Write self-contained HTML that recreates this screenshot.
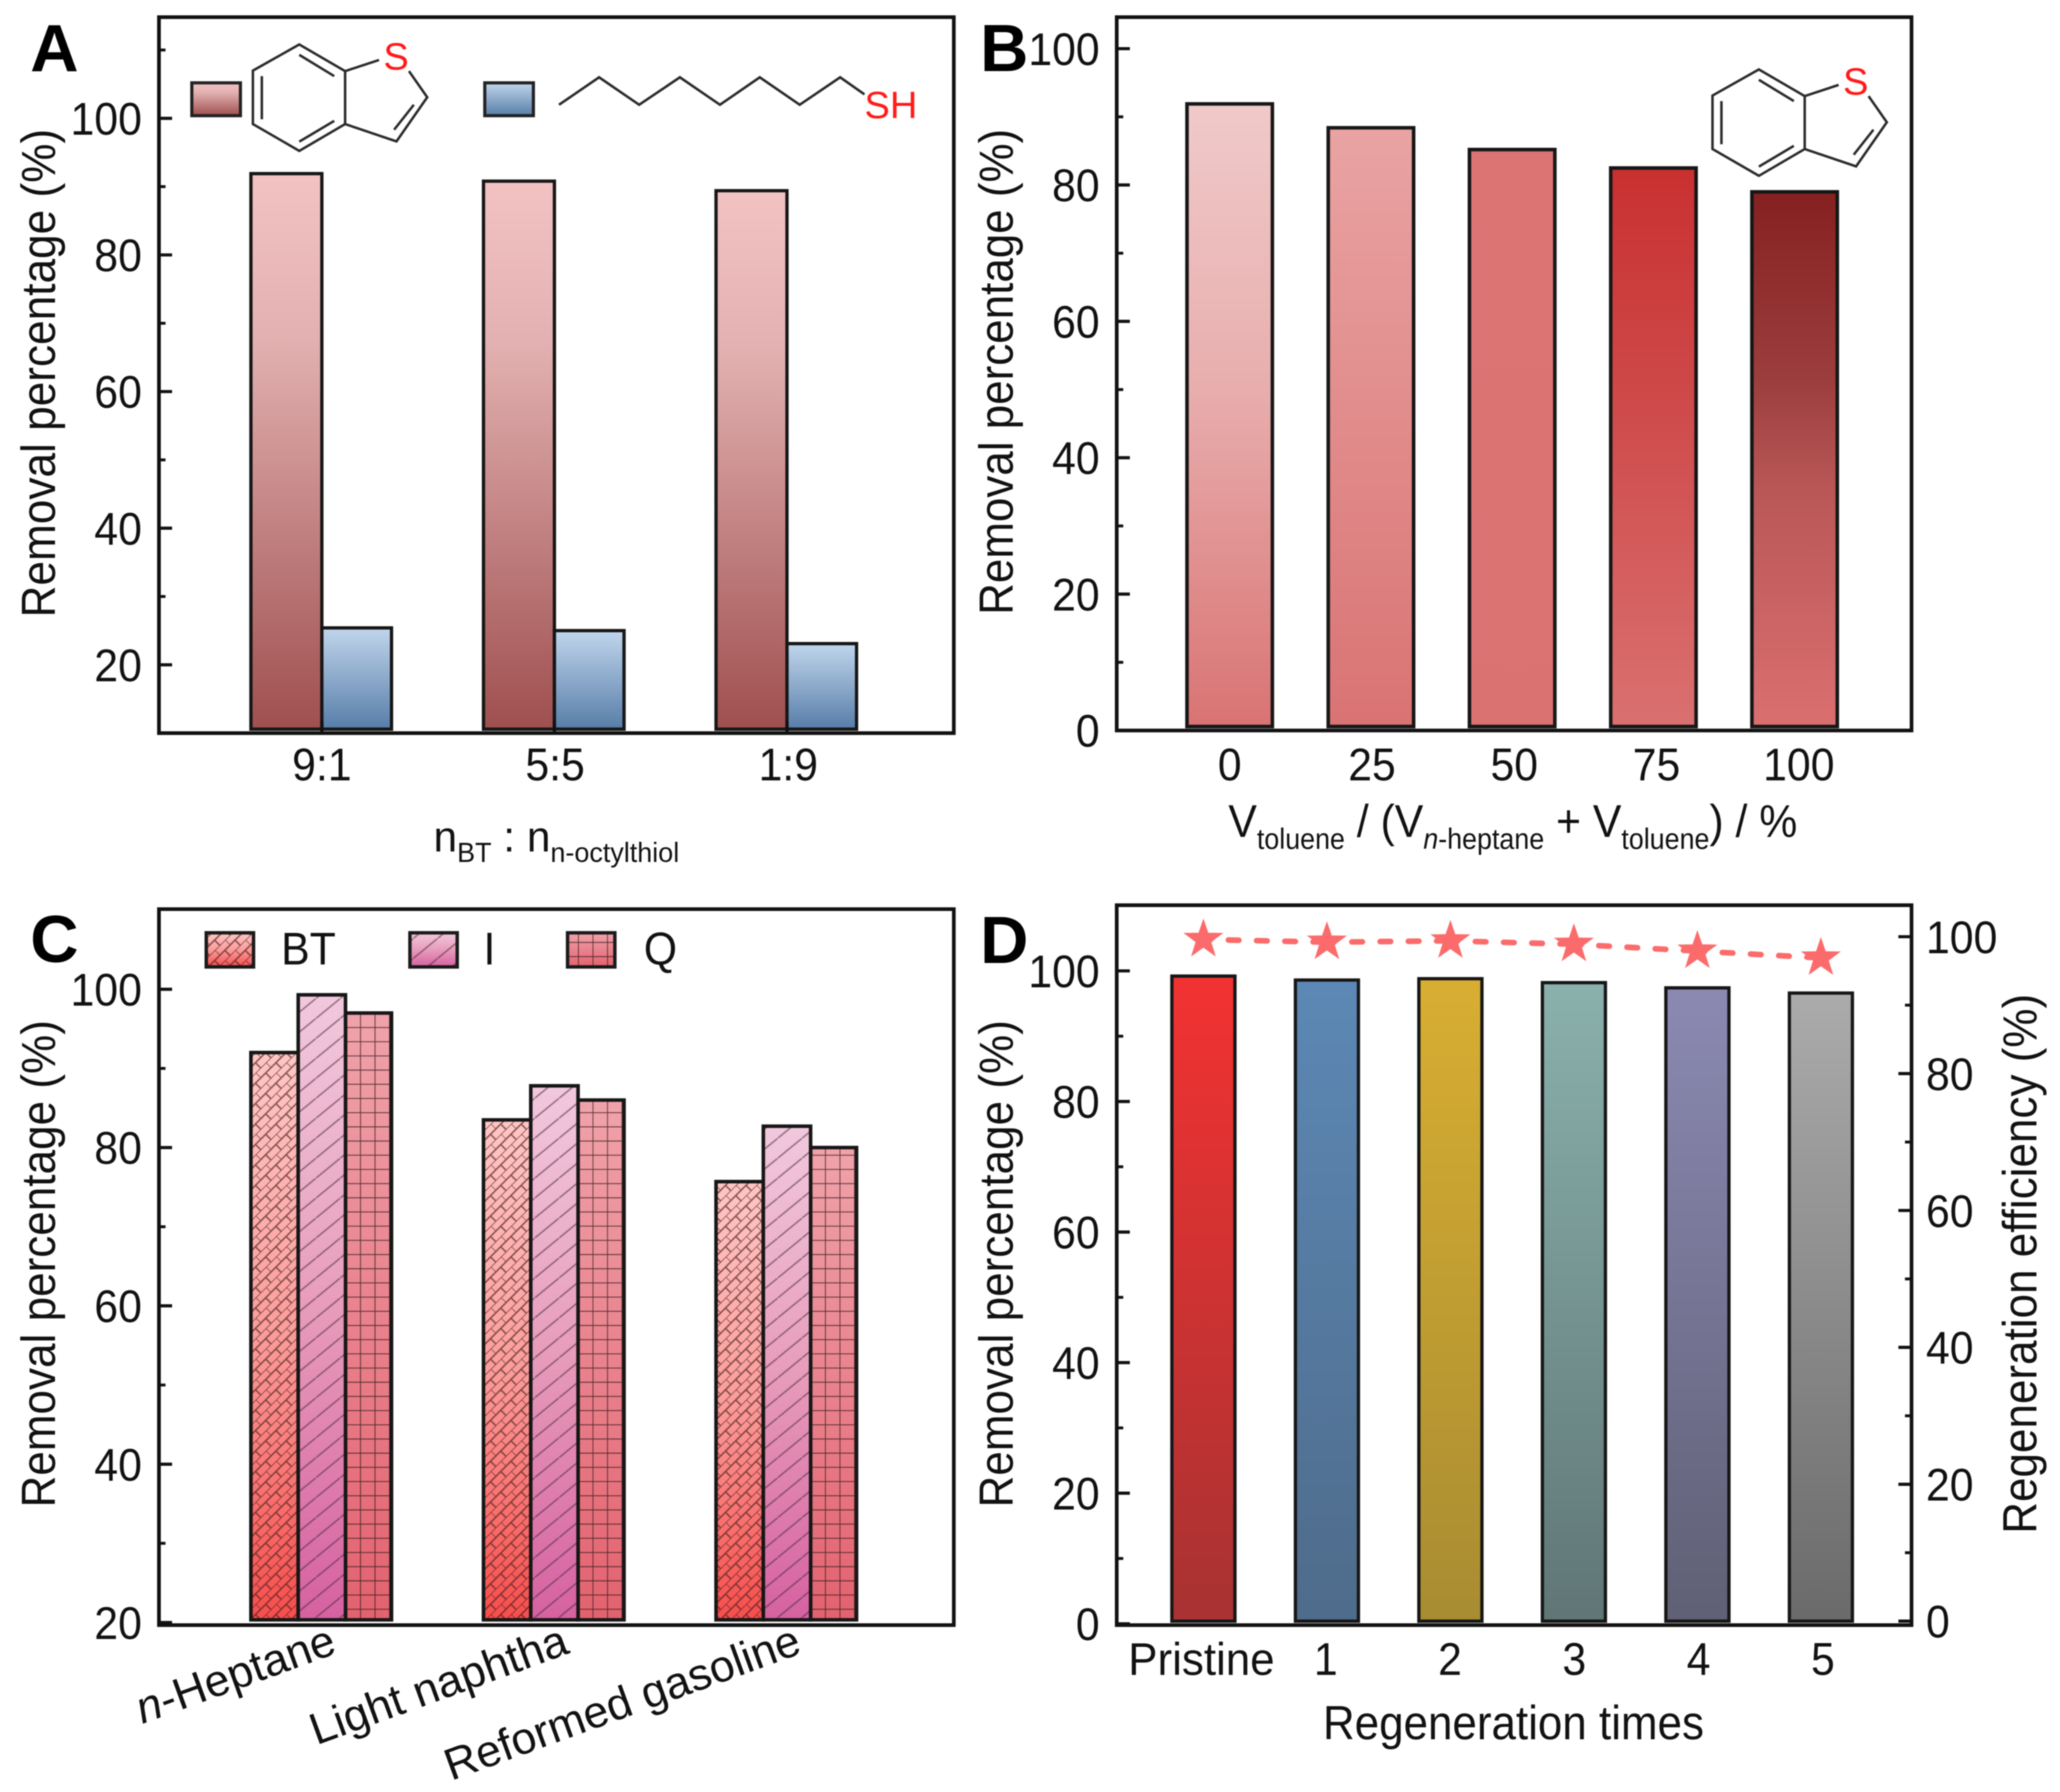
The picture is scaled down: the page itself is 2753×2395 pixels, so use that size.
<!DOCTYPE html>
<html lang="en">
<head>
<meta charset="utf-8">
<title>Removal percentage panels A-D</title>
<style>
html,body{margin:0;padding:0;background:#fff;}
svg{display:block;filter:blur(0.9px);}
text{font-family:"Liberation Sans",sans-serif;fill:#111;}
.tick{font-size:35px;}
.title{font-size:36.5px;}
.letter{font-size:51px;font-weight:bold;fill:#000;}
.frame{fill:none;stroke:#111;stroke-width:2.8;}
.bond{fill:none;stroke:#2b2b2b;stroke-width:1.9;}
.red{fill:#ff1a1a;font-size:29px;}
</style>
</head>
<body>
<svg id="figure" xmlns="http://www.w3.org/2000/svg" width="2753" height="2395" viewBox="0 0 1568 1364">
<defs>
<linearGradient id="gA1" x1="0" y1="0" x2="0" y2="1"><stop offset="0" stop-color="#f2c2c2"/><stop offset="0.3" stop-color="#e2b0b0"/><stop offset="1" stop-color="#9f4f4f"/></linearGradient>
<linearGradient id="gA2" x1="0" y1="0" x2="0" y2="1"><stop offset="0" stop-color="#c0d5ec"/><stop offset="1" stop-color="#577da8"/></linearGradient>
<linearGradient id="gB0" x1="0" y1="0" x2="0" y2="1"><stop offset="0" stop-color="#f0c9c9"/><stop offset="0.45" stop-color="#e8aeae"/><stop offset="1" stop-color="#d97373"/></linearGradient>
<linearGradient id="gB1" x1="0" y1="0" x2="0" y2="1"><stop offset="0" stop-color="#e9a3a3"/><stop offset="1" stop-color="#d97373"/></linearGradient>
<linearGradient id="gB2" x1="0" y1="0" x2="0" y2="1"><stop offset="0" stop-color="#dc7474"/><stop offset="1" stop-color="#da7272"/></linearGradient>
<linearGradient id="gB3" x1="0" y1="0" x2="0" y2="1"><stop offset="0" stop-color="#c93030"/><stop offset="0.35" stop-color="#cd4545"/><stop offset="1" stop-color="#da7070"/></linearGradient>
<linearGradient id="gB4" x1="0" y1="0" x2="0" y2="1"><stop offset="0" stop-color="#852020"/><stop offset="0.35" stop-color="#9c3d3d"/><stop offset="0.55" stop-color="#b85656"/><stop offset="1" stop-color="#db6f6f"/></linearGradient>
<linearGradient id="gCBT" x1="0" y1="0" x2="0" y2="1"><stop offset="0" stop-color="#ffc6c4"/><stop offset="0.5" stop-color="#fb9c9a"/><stop offset="1" stop-color="#f74d4b"/></linearGradient>
<linearGradient id="gCI" x1="0" y1="0" x2="0" y2="1"><stop offset="0" stop-color="#f1c8dd"/><stop offset="0.5" stop-color="#e79cba"/><stop offset="1" stop-color="#d561a1"/></linearGradient>
<linearGradient id="gCQ" x1="0" y1="0" x2="0" y2="1"><stop offset="0" stop-color="#f0a2aa"/><stop offset="1" stop-color="#e2626f"/></linearGradient>
<linearGradient id="gD0" x1="0" y1="0" x2="0" y2="1"><stop offset="0" stop-color="#f23232"/><stop offset="1" stop-color="#a83232"/></linearGradient>
<linearGradient id="gD1" x1="0" y1="0" x2="0" y2="1"><stop offset="0" stop-color="#5c88b5"/><stop offset="1" stop-color="#4e6b8a"/></linearGradient>
<linearGradient id="gD2" x1="0" y1="0" x2="0" y2="1"><stop offset="0" stop-color="#d8ae32"/><stop offset="1" stop-color="#a88c32"/></linearGradient>
<linearGradient id="gD3" x1="0" y1="0" x2="0" y2="1"><stop offset="0" stop-color="#8ab1ad"/><stop offset="1" stop-color="#5f7675"/></linearGradient>
<linearGradient id="gD4" x1="0" y1="0" x2="0" y2="1"><stop offset="0" stop-color="#8b89b2"/><stop offset="1" stop-color="#5f5f75"/></linearGradient>
<linearGradient id="gD5" x1="0" y1="0" x2="0" y2="1"><stop offset="0" stop-color="#ababab"/><stop offset="1" stop-color="#6a6a6a"/></linearGradient>
<pattern id="hBT" patternUnits="userSpaceOnUse" width="11" height="11" patternTransform="rotate(-45)">
<path d="M0 0H11M0 5.5H11M0 0V5.5M5.5 5.5V11" fill="none" stroke="#4a2222" stroke-opacity="0.7" stroke-width="1.1"/>
</pattern>
<pattern id="hI" patternUnits="userSpaceOnUse" width="18.5" height="15.2">
<path d="M-1 16L19.5 -0.8" fill="none" stroke="#4a2a3a" stroke-opacity="0.55" stroke-width="1.2"/>
</pattern>
<pattern id="hQ" patternUnits="userSpaceOnUse" width="11.06" height="10.8" x="263" y="771">
<path d="M0 0H11.06M0 0V10.8" fill="none" stroke="#2a1515" stroke-opacity="0.8" stroke-width="1.25"/>
</pattern>
<g id="benzothiophene-shape">
<path class="bond" d="M227.8 33.8L262.7 54.1V94.4L227.8 114.8L192.5 94.4V53.7Z"/>
<path class="bond" d="M199.3 57.9V90.7M227.8 41.7L254.4 57.9M227.8 107.8L254.4 92"/>
<path class="bond" d="M262.7 54.1L288.5 45.6M311.3 54.1L325.2 74L301.8 107.6L262.7 94.4M315 79.7L300 98.7"/>
</g>
</defs>

<rect x="0" y="0" width="1568" height="1364" fill="#fff"/>

<g id="ticks-layer"></g>
<g id="bars-layer"></g>

<rect class="frame" x="121" y="13" width="605" height="545"/>
<rect class="frame" x="850" y="13" width="605" height="543"/>
<rect class="frame" x="121" y="692" width="605" height="545"/>
<rect class="frame" x="850" y="689" width="605" height="548"/>

<g id="labels-layer"></g>

<text class="letter" x="23" y="54">A</text>
<text class="letter" x="746" y="54">B</text>
<text class="letter" x="23" y="732">C</text>
<text class="letter" x="746" y="733">D</text>

<text class="title" transform="translate(42,284) rotate(-90)" text-anchor="middle" textLength="372" lengthAdjust="spacingAndGlyphs">Removal percentage (%)</text>
<text class="title" transform="translate(771,283) rotate(-90)" text-anchor="middle" textLength="370" lengthAdjust="spacingAndGlyphs">Removal percentage (%)</text>
<text class="title" transform="translate(42,962) rotate(-90)" text-anchor="middle" textLength="371" lengthAdjust="spacingAndGlyphs">Removal percentage (%)</text>
<text class="title" transform="translate(771,962) rotate(-90)" text-anchor="middle" textLength="371" lengthAdjust="spacingAndGlyphs">Removal percentage (%)</text>
<text class="title" transform="translate(1550,962) rotate(-90)" text-anchor="middle" textLength="411" lengthAdjust="spacingAndGlyphs">Regeneration efficiency (%)</text>

<text x="330" y="648" font-size="33" textLength="187" lengthAdjust="spacingAndGlyphs">n<tspan font-size="21" dy="8">BT</tspan><tspan dy="-8"> : n</tspan><tspan font-size="21" dy="8">n-octylthiol</tspan></text>
<text x="935" y="637" font-size="35" textLength="433" lengthAdjust="spacingAndGlyphs">V<tspan font-size="22" dy="9">toluene</tspan><tspan dy="-9"> / (V</tspan><tspan font-size="22" dy="9" font-style="italic">n</tspan><tspan font-size="22">-heptane</tspan><tspan dy="-9"> + V</tspan><tspan font-size="22" dy="9">toluene</tspan><tspan dy="-9">) / %</tspan></text>
<text class="title" x="1152" y="1324" text-anchor="middle" textLength="290" lengthAdjust="spacingAndGlyphs">Regeneration times</text>

<g>
<rect x="146" y="63" width="37" height="25" fill="url(#gA1)" stroke="#222" stroke-width="2.4"/>
</g>
<g>
<rect x="369" y="63" width="37" height="25" fill="url(#gA2)" stroke="#222" stroke-width="2.4"/>
</g>
<use href="#benzothiophene-shape"/>
<text class="red" x="301.5" y="53" text-anchor="middle">S</text>
<polyline class="bond" points="425.5,79.7 456,58.8 486.5,79.7 517.5,58.8 548,79.7 578.3,58.8 608.7,79.7 639.5,58.8 658,71.8"/>
<text class="red" x="658" y="90">SH</text>

<use href="#benzothiophene-shape" transform="translate(1111,19)"/>
<text class="red" x="1412.5" y="72" text-anchor="middle">S</text>

<g>
<rect x="157" y="710" width="36" height="26" fill="url(#gCBT)"/>
<rect x="157" y="710" width="36" height="26" fill="url(#hBT)" stroke="#1a1a1a" stroke-width="2.6"/>
<text class="tick" x="214" y="734">BT</text>
</g>
<g>
<rect x="312" y="710" width="36" height="26" fill="url(#gCI)"/>
<rect x="312" y="710" width="36" height="26" fill="url(#hI)" stroke="#1a1a1a" stroke-width="2.6"/>
<text class="tick" x="368" y="734">I</text>
</g>
<g>
<rect x="432" y="710" width="36" height="26" fill="url(#gCQ)"/>
<rect x="432" y="710" width="36" height="26" fill="url(#hQ)" stroke="#1a1a1a" stroke-width="2.6"/>
<text class="tick" x="490" y="734">Q</text>
</g>

<g id="series-layer"></g>
</svg>

<script>
// Panel A data
const panelACategories = ['9:1', '5:5', '1:9'];
const panelABenzothiophene = [91.9, 90.8, 89.4];
const panelAOctylthiol = [25.4, 25.0, 23.1];
const panelAYLabels = [20, 40, 60, 80, 100];
const panelAYMinor = [30, 50, 70, 90, 110];

// Panel B data
const panelBCategories = ['0', '25', '50', '75', '100'];
const panelBRemoval = [91.9, 88.4, 85.2, 82.5, 79.0];
const panelBYLabels = [0, 20, 40, 60, 80, 100];
const panelBYMinor = [10, 30, 50, 70, 90];

// Panel C data
const panelCCategories = ['n-Heptane', 'Light naphtha', 'Reformed gasoline'];
const panelCBT = [92.0, 83.5, 75.7];
const panelCI = [99.3, 87.8, 82.7];
const panelCQ = [97.0, 86.0, 80.0];
const panelCYLabels = [20, 40, 60, 80, 100];
const panelCYMinor = [30, 50, 70, 90];

// Panel D data
const panelDCategories = ['Pristine', '1', '2', '3', '4', '5'];
const panelDRemoval = [99.2, 98.6, 98.8, 98.2, 97.4, 96.6];
const panelDEfficiency = [99.6, 99.2, 99.4, 98.9, 97.9, 96.9];
const panelDLeftLabels = [0, 20, 40, 60, 80, 100];
const panelDLeftMinor = [10, 30, 50, 70, 90];
const panelDRightLabels = [0, 20, 40, 60, 80, 100];
const panelDRightMinor = [10, 30, 50, 70, 90];

const NS = 'http://www.w3.org/2000/svg';
const ticksLayer = document.getElementById('ticks-layer');
const barsLayer = document.getElementById('bars-layer');
const labelsLayer = document.getElementById('labels-layer');
const seriesLayer = document.getElementById('series-layer');

function mk(tag, attrs, parent) {
  const el = document.createElementNS(NS, tag);
  for (const k in attrs) el.setAttribute(k, attrs[k]);
  parent.appendChild(el);
  return el;
}
function linear(d0, d1, r0, r1) {
  return function (v) { return r0 + (v - d0) * (r1 - r0) / (d1 - d0); };
}
function band(start, step) {
  return function (i) { return start + i * step; };
}

function yAxis(prefix, scale, majors, minors, frameX, dir, labelX, anchor) {
  majors.forEach(function (v) {
    const t = mk('line', {x1: frameX, x2: frameX + dir * 10, y1: scale(v), y2: scale(v), stroke: '#111', 'stroke-width': 2.4}, ticksLayer);
    
    
    const l = mk('text', {x: labelX, y: scale(v) + 12.5, 'text-anchor': anchor, class: 'tick'}, labelsLayer);
    l.textContent = v;
    
    
  });
  minors.forEach(function (v) {
    const t = mk('line', {x1: frameX, x2: frameX + dir * 5, y1: scale(v), y2: scale(v), stroke: '#111', 'stroke-width': 2.2}, ticksLayer);
    
    
  });
}

function xTicks(prefix, count, pos, frameBottom) {
  for (let i = 0; i < count; i++) {
    const t = mk('line', {x1: pos(i), x2: pos(i), y1: frameBottom, y2: frameBottom - 9, stroke: '#111', 'stroke-width': 2.4}, seriesLayer);
    
    
  }
}

function xLabels(prefix, cats, pos, baseline) {
  cats.forEach(function (c, i) {
    const l = mk('text', {x: pos(i), y: baseline, 'text-anchor': 'middle', class: 'tick'}, labelsLayer);
    l.textContent = c;
    
    
  });
}

function bar(name, x, w, top, bottom, fill, hatch, sw) {
  const g = mk('g', {}, barsLayer);
  
  
  mk('rect', {x: x, y: top, width: w, height: bottom - top, fill: fill}, g);
  mk('rect', {x: x, y: top, width: w, height: bottom - top, fill: hatch || 'none', stroke: '#161616', 'stroke-width': sw || 2.5}, g);
}

// Panel A
(function () {
  const y = linear(20, 100, 506, 90);
  const cx = band(245, 177);
  yAxis('panel-a-y', y, panelAYLabels, panelAYMinor, 121, 1, 108, 'end');
  panelACategories.forEach(function (c, i) {
    bar('panel-a-bar-benzothiophene-' + c, cx(i) - 54, 54, y(panelABenzothiophene[i]), 555, 'url(#gA1)');
    bar('panel-a-bar-octylthiol-' + c, cx(i), 53, y(panelAOctylthiol[i]), 555, 'url(#gA2)');
  });
  xTicks('panel-a', panelACategories.length, cx, 558);
  xLabels('panel-a', panelACategories, band(245, 177.5), 594);
})();

// Panel B
(function () {
  const y = linear(0, 100, 556, 37);
  const cx = band(936, 107.5);
  yAxis('panel-b-y', y, panelBYLabels, panelBYMinor, 850, 1, 837, 'end');
  panelBCategories.forEach(function (c, i) {
    bar('panel-b-bar-' + c, cx(i) - 32.5, 65, y(panelBRemoval[i]), 553, 'url(#gB' + i + ')', null, 2.7);
  });
  xLabels('panel-b', panelBCategories, band(936, 108.3), 594);
})();

// Panel C
(function () {
  const y = linear(20, 100, 1235, 753);
  const cx = band(245, 177);
  yAxis('panel-c-y', y, panelCYLabels, panelCYMinor, 121, 1, 108, 'end');
  panelCCategories.forEach(function (c, i) {
    bar('panel-c-bar-bt-' + i, cx(i) - 54, 36, y(panelCBT[i]), 1233, 'url(#gCBT)', 'url(#hBT)', 2.7);
    bar('panel-c-bar-q-' + i, cx(i) + 18, 35, y(panelCQ[i]), 1233, 'url(#gCQ)', 'url(#hQ)', 2.7);
    bar('panel-c-bar-i-' + i, cx(i) - 18, 36, y(panelCI[i]), 1233, 'url(#gCI)', 'url(#hI)', 2.7);
    const l = mk('text', {transform: 'translate(' + (cx(i) + 12.5) + ',1258) rotate(-20)', 'text-anchor': 'end', 'font-size': 34}, labelsLayer);
    if (c.indexOf('n-') === 0) {
      const it = mk('tspan', {'font-style': 'italic'}, l);
      it.textContent = 'n';
      const rest = mk('tspan', {}, l);
      rest.textContent = c.slice(1);
    } else {
      l.textContent = c;
    }
    
    
  });
})();

// Panel D
(function () {
  const yL = linear(0, 100, 1236, 739);
  const yR = linear(0, 100, 1234, 713);
  const cx = band(916, 94);
  yAxis('panel-d-left-y', yL, panelDLeftLabels, panelDLeftMinor, 850, 1, 837, 'end');
  yAxis('panel-d-right-y', yR, panelDRightLabels, panelDRightMinor, 1455, -1, 1466, 'start');
  panelDCategories.forEach(function (c, i) {
    bar('panel-d-bar-' + c, cx(i) - 24, 48, yL(panelDRemoval[i]), 1234, 'url(#gD' + i + ')');
  });
  xLabels('panel-d', panelDCategories, band(914.5, 94.6), 1275);

  // one dashed segment per pair of neighbouring points, restarting the dash phase at each star
  panelDEfficiency.slice(1).forEach(function (v, i) {
    const seg = mk('line', {x1: cx(i), y1: yR(panelDEfficiency[i]), x2: cx(i + 1), y2: yR(v), stroke: '#fb6b6b', 'stroke-width': 4.3, 'stroke-linecap': 'round', 'stroke-dasharray': '8 13.5', 'stroke-dashoffset': 2.5}, seriesLayer);
    
    
  });
  panelDEfficiency.forEach(function (v, i) {
    let d = '';
    for (let k = 0; k < 10; k++) {
      const r = k % 2 === 0 ? 16 : 6.3;
      const a = -Math.PI / 2 + k * Math.PI / 5;
      d += (k ? 'L' : 'M') + (cx(i) + r * Math.cos(a)).toFixed(2) + ' ' + (yR(v) + r * Math.sin(a)).toFixed(2);
    }
    const s = mk('path', {d: d + 'Z', fill: '#fb6b6b'}, seriesLayer);
    
    
  });
})();

// Labels in the figure are tall and slightly condensed
document.querySelectorAll('text.tick').forEach(function (t) {
  const ratio = t.textContent.length > 4 ? 0.955 : 0.93;
  t.setAttribute('lengthAdjust', 'spacingAndGlyphs');
  t.setAttribute('textLength', (t.getComputedTextLength() * ratio).toFixed(2));
});
</script>
</body>
</html>
